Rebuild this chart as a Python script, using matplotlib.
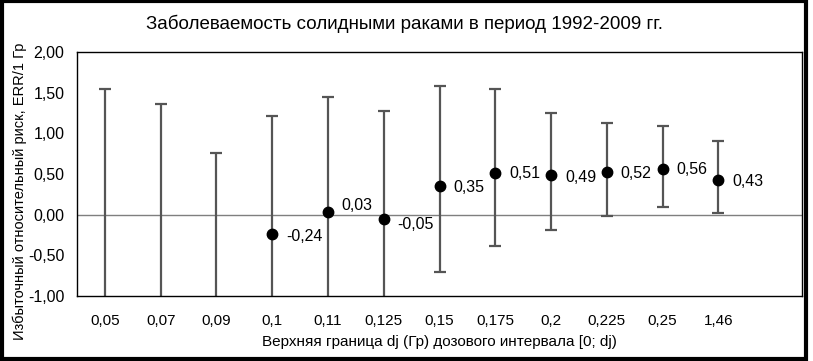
import numpy as np
import matplotlib
matplotlib.use("Agg")
import matplotlib.pyplot as plt
from matplotlib.patches import Rectangle

plt.rcParams["font.family"] = ["Liberation Sans", "DejaVu Sans"]

doses = ["0,05", "0,07", "0,09", "0,1", "0,11", "0,125", "0,15", "0,175", "0,2", "0,225", "0,25", "1,46"]
err = [np.nan, np.nan, np.nan, -0.24, 0.03, -0.05, 0.35, 0.51, 0.49, 0.52, 0.56, 0.43]
ci_low = [np.nan, np.nan, np.nan, np.nan, np.nan, np.nan, -0.70, -0.38, -0.19, -0.02, 0.09, 0.02]
ci_high = [1.55, 1.36, 0.76, 1.21, 1.45, 1.28, 1.58, 1.54, 1.25, 1.13, 1.09, 0.90]
label_dy = [0, 0, 0, -2, 5, -4, -1, 0, -2, -1, 0, -1]

ymin, ymax = -1.0, 2.0
x = np.arange(len(doses))
lo = np.where(np.isnan(ci_low), ymin, ci_low)

fig = plt.figure(figsize=(8.13, 3.61), dpi=100)
ax = fig.add_axes([0.0947, 0.180, 0.8918, 0.676])

ax.axhline(0, color="#7f7f7f", lw=1, zorder=1)
ax.vlines(x, lo, ci_high, color="#555555", lw=1.6, zorder=2)
ax.plot(x, ci_high, ls="none", marker="_", ms=8, mew=1.6, color="#555555", zorder=2)
ax.plot(x, ci_low, ls="none", marker="_", ms=8, mew=1.6, color="#555555", zorder=2)
ax.plot(x, err, ls="none", marker="o", ms=7.5, color="black", zorder=3)

for xi, v, dy in zip(x, err, label_dy):
    if np.isnan(v):
        continue
    ax.annotate(f"{v:.2f}".replace(".", ","), (xi, v), xytext=(10, dy),
                textcoords="offset points", ha="left", va="center", fontsize=11.5)

ax.set_xlim(-0.5, len(doses) + 0.5)
ax.set_ylim(ymin, ymax)
ax.set_xticks(x)
ax.set_xticklabels(doses, fontsize=11)
yt = np.arange(-1.0, 2.01, 0.5)
ax.set_yticks(yt)
ax.set_yticklabels([f"{t:.2f}".replace(".", ",") for t in yt], fontsize=11.5)
ax.tick_params(axis="x", length=0, pad=13)
ax.tick_params(axis="y", length=0, pad=9)
for s in ax.spines.values():
    s.set_linewidth(1)
    s.set_color("black")

ax.set_xlabel("Верхняя граница dj (Гр) дозового интервала [0; dj)", fontsize=11, labelpad=5)
fig.text(0.024, 0.47, "Избыточный относительный риск, ERR/1 Гр", rotation=90,
         ha="center", va="center", fontsize=10.5)
fig.text(0.498, 0.935, "Заболеваемость солидными раками в период 1992-2009 гг.",
         ha="center", va="center", fontsize=13.5)

fig.patches.append(Rectangle((0.002, 0.006), 0.989, 0.99, transform=fig.transFigure,
                             fill=False, ec="black", lw=3))
fig.savefig("out.png", dpi=100)
